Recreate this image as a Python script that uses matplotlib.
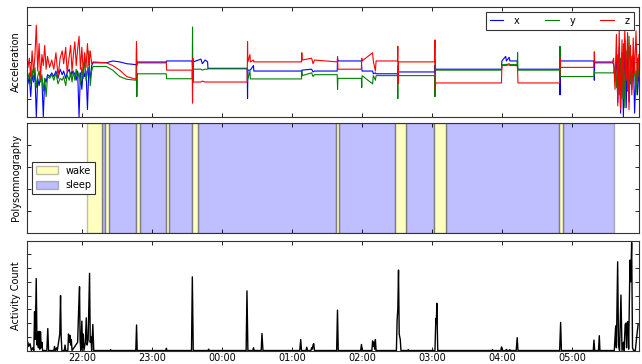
import matplotlib
matplotlib.use("Agg")
import matplotlib.pyplot as plt

# time axis is in hours; values above 24 are after midnight
tick_hours = [22, 23, 24, 25, 26, 27, 28, 29]
tick_labels = ["22:00", "23:00", "00:00", "01:00", "02:00", "03:00", "04:00", "05:00"]
t_start = 21.224
t_end = 29.946

# accelerometer signal (x, y, z)
acc_time = [
    21.23, 21.25, 21.27, 21.29, 21.31, 21.33, 21.35, 21.37, 21.39, 21.41,
    21.43, 21.45, 21.47, 21.49, 21.51, 21.54, 21.57, 21.60, 21.63, 21.66,
    21.69, 21.72, 21.74, 21.77, 21.79, 21.82, 21.84, 21.86, 21.88, 21.90,
    21.92, 21.94, 21.96, 21.98, 22.00, 22.02, 22.04, 22.06, 22.08, 22.10,
    22.12, 22.14,
    22.16, 22.35, 22.44, 22.54, 22.64, 22.775, 22.780, 22.785, 22.790, 23.205,
    23.210, 23.575, 23.580, 23.585, 23.590, 23.700, 23.720, 23.760, 23.795, 23.800,
    24.360, 24.365, 24.370, 24.400, 24.405, 24.450, 24.455, 25.135, 25.140, 25.145,
    25.280, 25.300, 25.320, 25.645, 25.650, 25.655, 25.990, 25.995, 26.000, 26.150,
    26.160, 26.190, 26.200, 26.505, 26.510, 26.515, 26.520, 27.035, 27.040, 27.045,
    27.050, 27.990, 27.995, 28.050, 28.060, 28.100, 28.110, 28.215, 28.220, 28.225,
    28.820, 28.825, 28.830, 29.310, 29.315, 29.320, 29.575,
    29.59, 29.61, 29.63, 29.65, 29.67, 29.69, 29.71, 29.73, 29.75, 29.77,
    29.79, 29.81, 29.83, 29.85, 29.87, 29.89, 29.91, 29.93, 29.95,
]
acc_x = [
    -1.2, -0.8, -1.9, -0.7, -1.1, -0.6, -3.0, -0.9, -1.3, -0.8,
    -1.0, -3.0, -0.9, -1.1, -0.7, -0.8, -0.6, -0.8, -0.5, -0.9,
    -0.4, -0.7, -0.5, -0.9, -0.6, -0.4, -0.8, -0.5, -0.7, -0.6,
    -1.0, -0.5, -3.0, -0.6, -1.5, -0.4, -0.8, -0.5, -2.6, -0.3,
    -0.9, -0.2,
    -0.05, -0.05, 0.05, 0.00, -0.10, -0.15, -0.20, -0.10, -0.05, -0.05,
    0.05, 0.05, -0.30, 0.10, 0.00, 0.15, -0.10, 0.10, 0.00, -0.35,
    -0.35, -2.00, -0.45, -0.45, -0.45, -0.20, -0.50, -0.50, -0.45, -0.45,
    -0.40, -0.55, -0.50, -0.50, 0.20, 0.05, 0.05, -0.30, -0.50, -0.50,
    -0.65, -0.60, -0.65, -0.65, -0.90, -0.30, -0.55, -0.55, -0.20, -0.70,
    -0.40, -0.40, 0.05, 0.30, 0.05, 0.25, 0.05, 0.05, -0.40, -0.40,
    -0.40, -1.80, 0.05, 0.05, -1.00, -0.05, -0.05,
    -0.1, -0.8, 0.3, -2.2, 0.8, -2.8, 0.5, -3.0, 1.2, -2.5,
    0.9, -2.2, -0.2, -1.5, 0.4, -2.8, -0.5, -1.8, -0.6,
]
acc_y = [
    -0.9, -0.6, -1.2, -0.4, -1.0, -0.3, -1.4, -0.8, -0.5, -1.1,
    -0.7, -1.6, -0.9, -1.9, -0.8, -0.9, -0.7, -1.0, -0.6, -1.2,
    -0.9, -1.0, -0.8, -1.3, -0.7, -1.0, -0.6, -1.1, -0.5, -1.0,
    -0.4, -0.9, -0.6, -1.2, -0.3, -0.9, 0.2, -1.0, -0.6, 0.6,
    -1.3, -0.5,
    -0.25, -0.25, -0.45, -0.80, -0.95, -1.00, 0.75, -1.90, -0.65, -0.65,
    -0.92, -0.92, 1.90, -1.10, -0.40, -0.40, -0.45, -0.40, -0.40, -0.38,
    -0.38, -0.60, -0.93, -0.50, -0.93, -0.93, -0.93, -0.93, -0.50, -0.75,
    -0.60, -0.80, -0.70, -0.70, -1.50, -0.90, -0.90, -1.40, -0.75, -1.20,
    -0.75, -1.00, -0.75, -0.75, -2.00, -0.20, -0.75, -0.75, -1.90, 0.10,
    -0.45, -0.45, -0.15, -0.15, -0.15, -0.10, -0.15, -0.15, 0.50, -0.45,
    -0.45, 0.85, -0.80, -0.80, -0.50, -0.60, -0.60,
    -0.6, -0.3, -1.4, 0.4, -1.8, 0.2, -2.0, 1.0, -2.5, 0.6,
    -1.6, 1.4, -1.2, 0.3, -1.0, -0.3, -1.8, 0.2, -0.8,
]
acc_z = [
    -0.3, 0.2, -0.8, 0.6, -0.6, 0.3, 2.0, -0.5, 1.0, -0.9,
    0.4, -0.2, 0.9, -0.4, 0.3, -0.3, 0.1, -0.4, 0.5, -0.8,
    0.2, 0.6, -0.1, 0.8, -0.6, 0.3, 0.9, -0.5, 0.4, 1.1,
    -0.2, 0.7, 1.4, -0.4, 0.8, -0.6, 0.5, -0.3, 1.0, -0.2,
    0.6, -0.1,
    0.00, -0.05, -0.20, -0.45, -0.80, -0.95, 1.10, -0.20, 0.00, 0.00,
    -0.45, -0.45, -2.25, 0.20, -1.10, -1.10, -1.05, -1.10, -1.10, -1.10,
    -1.10, 1.10, 0.00, 0.40, 0.00, 0.10, 0.00, 0.00, 0.50, 0.10,
    0.20, -0.10, 0.10, 0.00, 0.30, -0.40, -0.40, 0.20, 0.05, 0.50,
    0.05, -0.50, 0.05, 0.05, 0.85, -1.20, 0.00, 0.00, 1.20, -1.50,
    -1.15, -1.15, -0.20, -0.20, -0.20, -0.15, -0.20, -0.20, -0.50, -1.15,
    -1.15, 0.20, -0.30, -0.30, 0.55, 0.00, 0.00,
    0.2, -1.5, 1.5, -2.4, 1.7, -2.6, 1.2, -2.0, 1.8, -1.0,
    1.6, -2.6, 0.9, -1.8, 1.3, -0.6, 1.7, -1.2, 0.4,
]

# polysomnography stages as (start, end) in hours
wake_start = [22.071, 22.331, 22.777, 23.196, 23.567, 25.634, 26.471, 27.024, 28.806]
wake_end = [22.291, 22.381, 22.834, 23.243, 23.663, 25.677, 26.620, 27.191, 28.867]
sleep_start = [22.291, 22.381, 22.834, 23.243, 23.663, 25.677, 26.620, 27.191, 28.867]
sleep_end = [22.331, 22.777, 23.196, 23.567, 25.634, 26.471, 27.024, 28.806, 29.591]

# activity counts
act_time = [
    21.23, 21.24, 21.26, 21.28, 21.30, 21.315, 21.325, 21.335, 21.349, 21.36,
    21.37, 21.38, 21.39, 21.40, 21.41, 21.42, 21.43, 21.44, 21.50, 21.514,
    21.525, 21.60, 21.61, 21.62, 21.64, 21.65, 21.685, 21.696, 21.705, 21.715,
    21.75, 21.76, 21.77, 21.80, 21.81, 21.82, 21.83, 21.84, 21.85, 21.86,
    21.94, 21.955, 21.967, 21.975, 21.985, 22.00, 22.01, 22.02, 22.03, 22.05,
    22.063, 22.075, 22.09, 22.11, 22.12, 22.13, 22.14, 22.157, 22.17, 22.40,
    22.41, 22.42, 22.77, 22.781, 22.79, 23.20, 23.206, 23.215, 23.565, 23.577,
    23.59, 23.80, 23.81, 23.82, 24.345, 24.357, 24.37, 24.44, 24.45, 24.46,
    24.56, 24.571, 24.585, 25.11, 25.124, 25.135, 25.20, 25.21, 25.22, 25.27,
    25.28, 25.29, 25.30, 25.31, 25.32, 25.637, 25.649, 25.66, 25.98, 25.991,
    26.00, 26.14, 26.15, 26.16, 26.17, 26.18, 26.19, 26.20, 26.49, 26.50,
    26.51, 26.52, 26.53, 26.545, 26.555, 26.65, 26.66, 26.67, 27.04, 27.053,
    27.06, 27.067, 27.08, 27.85, 27.86, 27.87, 27.98, 27.99, 28.00, 28.05,
    28.06, 28.07, 28.10, 28.11, 28.12, 28.20, 28.214, 28.225, 28.82, 28.834,
    28.845, 29.30, 29.31, 29.32, 29.375, 29.386, 29.395, 29.60, 29.62, 29.63,
    29.648, 29.66, 29.675, 29.695, 29.71, 29.73, 29.74, 29.755, 29.767, 29.775,
    29.785, 29.795, 29.805, 29.824, 29.835, 29.848, 29.86, 29.875, 29.90, 29.92,
    29.94,
]
act_count = [
    30, 15, 25, 0, 10, 0, 141, 40, 262, 20,
    67, 10, 70, 5, 68, 10, 30, 0, 0, 80,
    0, 0, 15, 0, 10, 0, 60, 200, 50, 0,
    0, 20, 0, 0, 60, 30, 55, 20, 40, 0,
    30, 155, 232, 40, 0, 107, 10, 60, 0, 30,
    119, 20, 40, 281, 30, 50, 0, 95, 0, 0,
    3, 0, 0, 93, 0, 0, 8, 0, 0, 268,
    0, 0, 5, 0, 0, 217, 0, 0, 10, 0,
    0, 62, 0, 0, 40, 0, 0, 12, 0, 0,
    10, 5, 20, 25, 0, 0, 147, 0, 0, 22,
    0, 0, 35, 15, 30, 5, 40, 0, 0, 111,
    150, 293, 60, 40, 0, 0, 3, 0, 0, 117,
    100, 172, 0, 0, 3, 0, 0, 13, 0, 0,
    4, 0, 0, 3, 0, 0, 47, 0, 0, 102,
    0, 0, 38, 0, 0, 54, 0, 0, 90, 10,
    323, 20, 0, 202, 0, 30, 0, 95, 100, 10,
    100, 105, 5, 329, 250, 393, 10, 0, 0, 50,
    95,
]

FS = 7


def style_axes(ax):
    ax.tick_params(direction="in", top=True, right=True, length=3, width=0.6,
                   labelsize=FS, pad=2)
    for s in ax.spines.values():
        s.set_linewidth(0.8)
        s.set_color("#333333")
    ax.set_xlim(t_start, t_end)
    ax.set_xticks(tick_hours)
    ax.set_yticklabels([])


fig = plt.figure(figsize=(6.42, 3.64), dpi=100)
fig.patch.set_facecolor("white")

left, width = 0.0428, 0.9518
ax1 = fig.add_axes([left, 0.679, width, 0.302])
ax2 = fig.add_axes([left, 0.360, width, 0.302], sharex=ax1)
ax3 = fig.add_axes([left, 0.037, width, 0.302], sharex=ax1)

# acceleration
ax1.plot(acc_time, acc_x, color="b", lw=0.8, label="x")
ax1.plot(acc_time, acc_y, color="g", lw=0.8, label="y")
ax1.plot(acc_time, acc_z, color="r", lw=0.8, label="z")
ax1.set_ylim(-3, 3)
ax1.set_yticks([-3, -2, -1, 0, 1, 2, 3])
style_axes(ax1)
ax1.set_ylabel("Acceleration", fontsize=FS, labelpad=3)
leg = ax1.legend(loc="upper right", ncol=3, fontsize=FS, handlelength=1.4,
                 handletextpad=1.1, columnspacing=2.6, borderaxespad=0.5,
                 fancybox=False, framealpha=1)
leg.get_frame().set_edgecolor("#333333")
leg.get_frame().set_linewidth(0.8)

# polysomnography
for i in range(len(wake_start)):
    ax2.axvspan(wake_start[i], wake_end[i], facecolor="yellow", edgecolor="k",
                alpha=0.25, lw=1, label="wake" if i == 0 else None)
for i in range(len(sleep_start)):
    ax2.axvspan(sleep_start[i], sleep_end[i], facecolor="blue", edgecolor="k",
                alpha=0.25, lw=1, label="sleep" if i == 0 else None)
ax2.set_ylim(0, 1)
ax2.set_yticks([0, 0.2, 0.4, 0.6, 0.8, 1.0])
style_axes(ax2)
ax2.set_ylabel("Polysomnography", fontsize=FS, labelpad=3)
leg2 = ax2.legend(loc="center left", fontsize=FS, handlelength=2.2,
                  handleheight=0.9, borderaxespad=0.5, fancybox=False,
                  framealpha=1)
leg2.get_frame().set_edgecolor("#333333")
leg2.get_frame().set_linewidth(0.8)

# activity count
ax3.plot(act_time, act_count, color="k", lw=1)
ax3.set_ylim(0, 400)
ax3.set_yticks(list(range(0, 401, 50)))
style_axes(ax3)
ax3.set_ylabel("Activity Count", fontsize=FS, labelpad=3)

ax3.set_xticklabels(tick_labels)
plt.setp(ax1.get_xticklabels(), visible=False)
plt.setp(ax2.get_xticklabels(), visible=False)

fig.savefig("out.png", dpi=100, facecolor="white")
